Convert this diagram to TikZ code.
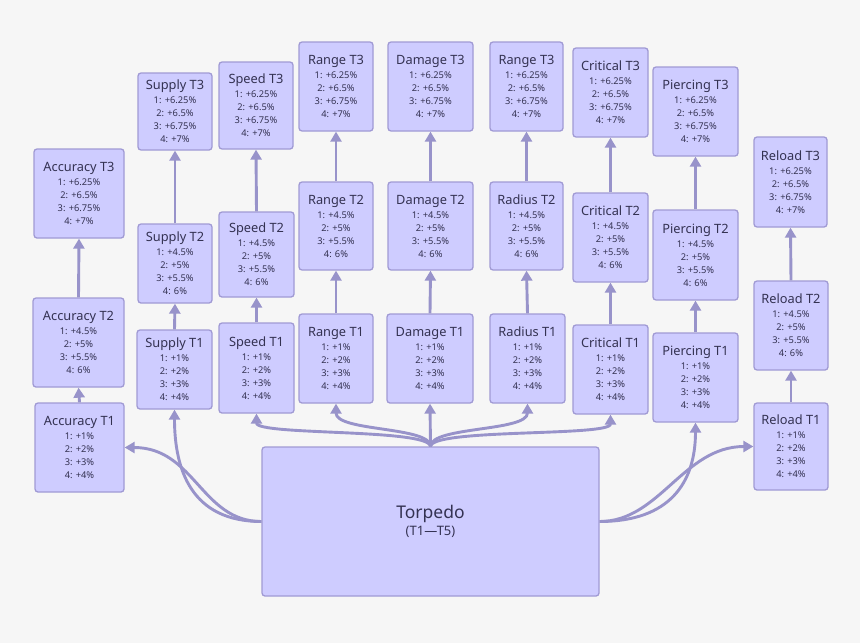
\documentclass[tikz,border=0pt]{standalone}
\usepackage{fontspec}
\setmainfont{Noto Sans}
\usetikzlibrary{arrows.meta}
\definecolor{bg}{RGB}{246,246,246}
\definecolor{nfill}{RGB}{206,204,255}
\definecolor{nborder}{RGB}{160,154,212}
\definecolor{edgec}{RGB}{152,147,202}
\definecolor{txt}{RGB}{52,50,82}
\tikzset{
  box/.style={draw=nborder, fill=nfill, line width=1.3pt, rounded corners=3pt, inner sep=0pt,
    align=center, text=txt, font=\fontsize{9.3}{13}\selectfont},
  edge/.style={draw=edgec, line width=2.9pt, -{Triangle[length=10pt,width=11pt]}},
}
\newcommand\ttl[1]{{\fontsize{12.8}{15}\selectfont #1}\\[1pt]}
\newcommand\tone{1: +1\%\\2: +2\%\\3: +3\%\\4: +4\%}
\newcommand\ttwo{1: +4.5\%\\2: +5\%\\3: +5.5\%\\4: 6\%}
\newcommand\tthree{1: +6.25\%\\2: +6.5\%\\3: +6.75\%\\4: +7\%}
\newcommand\bx[7]{%
  \node[box, minimum width={(#4-#2)*1pt}, minimum height={(#5-#3)*1pt}] (#1) at ({(#2+#4)/2},{(#3+#5)/2}) {\ttl{#6}#7};}
\begin{document}
\begin{tikzpicture}[x=1pt,y=-1pt]
\fill[bg] (0,0) rectangle (860,643);
\useasboundingbox (0,0) rectangle (860,643);
% Accuracy
\bx{acc3}{34}{149}{124}{238}{Accuracy T3}{\tthree}
\bx{acc2}{33}{298}{124}{387}{Accuracy T2}{\ttwo}
\bx{acc1}{35}{403}{124}{492}{Accuracy T1}{\tone}
% Supply
\bx{sup3}{138}{73}{212}{150}{Supply T3}{\tthree}
\bx{sup2}{138}{224}{212}{303}{Supply T2}{\ttwo}
\bx{sup1}{137}{330}{212}{409}{Supply T1}{\tone}
% Speed
\bx{spd3}{219}{62}{293}{149}{Speed T3}{\tthree}
\bx{spd2}{219}{212}{294}{297}{Speed T2}{\ttwo}
\bx{spd1}{219}{323}{294}{413}{Speed T1}{\tone}
% Range
\bx{rng3}{299}{42}{373}{131}{Range T3}{\tthree}
\bx{rng2}{299}{182}{373}{270}{Range T2}{\ttwo}
\bx{rng1}{299}{314}{373}{403}{Range T1}{\tone}
% Damage
\bx{dmg3}{388}{42}{473}{131}{Damage T3}{\tthree}
\bx{dmg2}{388}{182}{473}{270}{Damage T2}{\ttwo}
\bx{dmg1}{387}{314}{473}{403}{Damage T1}{\tone}
% Radius
\bx{rad3}{490}{42}{563}{131}{Range T3}{\tthree}
\bx{rad2}{490}{182}{563}{270}{Radius T2}{\ttwo}
\bx{rad1}{490}{314}{565}{403}{Radius T1}{\tone}
% Critical
\bx{crt3}{573}{48}{648}{137}{Critical T3}{\tthree}
\bx{crt2}{573}{193}{648}{282}{Critical T2}{\ttwo}
\bx{crt1}{573}{325}{648}{414}{Critical T1}{\tone}
% Piercing
\bx{prc3}{653}{67}{738}{156}{Piercing T3}{\tthree}
\bx{prc2}{653}{210}{738}{300}{Piercing T2}{\ttwo}
\bx{prc1}{653}{333}{738}{422}{Piercing T1}{\tone}
% Reload
\bx{rld3}{754}{137}{827}{227}{Reload T3}{\tthree}
\bx{rld2}{754}{281}{828}{370}{Reload T2}{\ttwo}
\bx{rld1}{754}{403}{828}{490}{Reload T1}{\tone}
% Torpedo
\node[box, minimum width=337pt, minimum height=149pt] (torp) at (430.5,521.5)
  {{\fontsize{17.5}{20}\selectfont Torpedo}\\[3pt]{\fontsize{13}{15}\selectfont (T1—T5)}};
% vertical edges
\foreach \a/\b/\c in {acc/acc1/acc2, sup/sup1/sup2, spd/spd1/spd2, rng/rng1/rng2, dmg/dmg1/dmg2, rad/rad1/rad2, crt/crt1/crt2, prc/prc1/prc2, rld/rld1/rld2}{
  \draw[edge] (\b.north) -- (\c.south);
  \draw[edge] (\c.north) -- (\a3.south);
}
% from torpedo top
\draw[edge] (torp.north) -- (dmg1.south);
\draw[edge] (torp.north) .. controls +(0,-20) and +(0,28) .. (rad1.south);
\draw[edge] (torp.north) .. controls +(0,-20) and +(0,28) .. (rng1.south);
\draw[edge] (torp.north) .. controls +(2,-18) and +(0,22) .. (crt1.south);
\draw[edge] (torp.north) .. controls +(-2,-18) and +(0,22) .. (spd1.south);
% left side
\draw[edge] (torp.west) .. controls +(-70,0) and +(0,60) .. (sup1.south);
\draw[edge] (torp.west) .. controls +(-60,0) and +(70,0) .. (acc1.east);
% right side
\draw[edge] (torp.east) .. controls +(70,0) and +(0,60) .. (prc1.south);
\draw[edge] (torp.east) .. controls +(60,0) and +(-70,0) .. (rld1.west);
\end{tikzpicture}
\end{document}
